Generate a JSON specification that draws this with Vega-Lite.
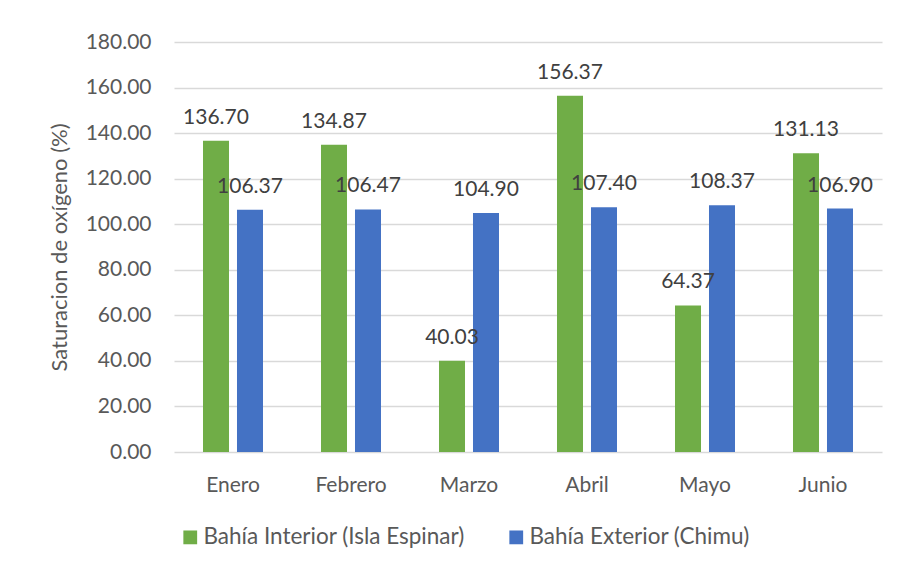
{
  "$schema": "https://vega.github.io/schema/vega-lite/v6.json",
  "autosize": {"type": "none"},
  "width": 708,
  "height": 410,
  "padding": {"left": 174, "top": 42, "right": 17, "bottom": 115},
  "background": "white",
  "config": {
    "font": "Lato",
    "view": {"stroke": null},
    "axis": {"labelFont": "Lato", "titleFont": "Lato"},
    "legend": {"labelFont": "Lato"}
  },
  "data": {
    "values": [
      {"mes": "Enero", "serie": "Bahía Interior (Isla Espinar)", "valor": 136.70},
      {"mes": "Enero", "serie": "Bahía Exterior (Chimu)", "valor": 106.37},
      {"mes": "Febrero", "serie": "Bahía Interior (Isla Espinar)", "valor": 134.87},
      {"mes": "Febrero", "serie": "Bahía Exterior (Chimu)", "valor": 106.47},
      {"mes": "Marzo", "serie": "Bahía Interior (Isla Espinar)", "valor": 40.03},
      {"mes": "Marzo", "serie": "Bahía Exterior (Chimu)", "valor": 104.90},
      {"mes": "Abril", "serie": "Bahía Interior (Isla Espinar)", "valor": 156.37},
      {"mes": "Abril", "serie": "Bahía Exterior (Chimu)", "valor": 107.40},
      {"mes": "Mayo", "serie": "Bahía Interior (Isla Espinar)", "valor": 64.37},
      {"mes": "Mayo", "serie": "Bahía Exterior (Chimu)", "valor": 108.37},
      {"mes": "Junio", "serie": "Bahía Interior (Isla Espinar)", "valor": 131.13},
      {"mes": "Junio", "serie": "Bahía Exterior (Chimu)", "valor": 106.90}
    ]
  },
  "encoding": {
    "x": {
      "field": "mes", "type": "nominal", "sort": null,
      "scale": {"paddingInner": 0, "paddingOuter": 0},
      "axis": {"title": null, "labelAngle": 0, "labelFontSize": 21, "labelColor": "#595959", "labelPadding": 22, "ticks": false, "tickSize": 0, "domain": false, "grid": false}
    },
    "xOffset": {
      "field": "serie", "type": "nominal",
      "sort": ["Bahía Interior (Isla Espinar)", "Bahía Exterior (Chimu)"],
      "scale": {"paddingInner": 0.235, "paddingOuter": 0.853}
    },
    "y": {
      "field": "valor", "type": "quantitative",
      "scale": {"domain": [0, 180], "nice": false},
      "axis": {
        "title": "Saturacion de oxígeno (%)", "titleFontSize": 22, "titleFontWeight": "normal", "titleColor": "#595959", "titlePadding": 14,
        "values": [0, 20, 40, 60, 80, 100, 120, 140, 160, 180], "format": ".2f",
        "labelFontSize": 21, "labelColor": "#595959", "labelPadding": 23, "ticks": false, "tickSize": 0, "domain": false,
        "gridColor": "#D9D9D9", "gridWidth": 1.3
      }
    }
  },
  "layer": [
    {
      "mark": {"type": "bar"},
      "encoding": {
        "color": {
          "field": "serie", "type": "nominal",
          "sort": ["Bahía Interior (Isla Espinar)", "Bahía Exterior (Chimu)"],
          "scale": {"domain": ["Bahía Interior (Isla Espinar)", "Bahía Exterior (Chimu)"], "range": ["#70AD47", "#4472C4"]},
          "legend": {
            "title": null, "orient": "none", "direction": "horizontal", "legendX": 5, "legendY": 484,
            "symbolType": "square", "symbolSize": 190, "symbolStrokeWidth": 0, "symbolOpacity": 1,
            "labelFontSize": 22.5, "labelColor": "#595959", "labelOffset": 2, "labelLimit": 0, "columnPadding": 40, "padding": 0
          }
        }
      }
    },
    {
      "mark": {"type": "text", "baseline": "alphabetic", "dy": -17, "fontSize": 21, "color": "#404040"},
      "encoding": {
        "text": {"field": "valor", "type": "quantitative", "format": ".2f"}
      }
    }
  ]
}
